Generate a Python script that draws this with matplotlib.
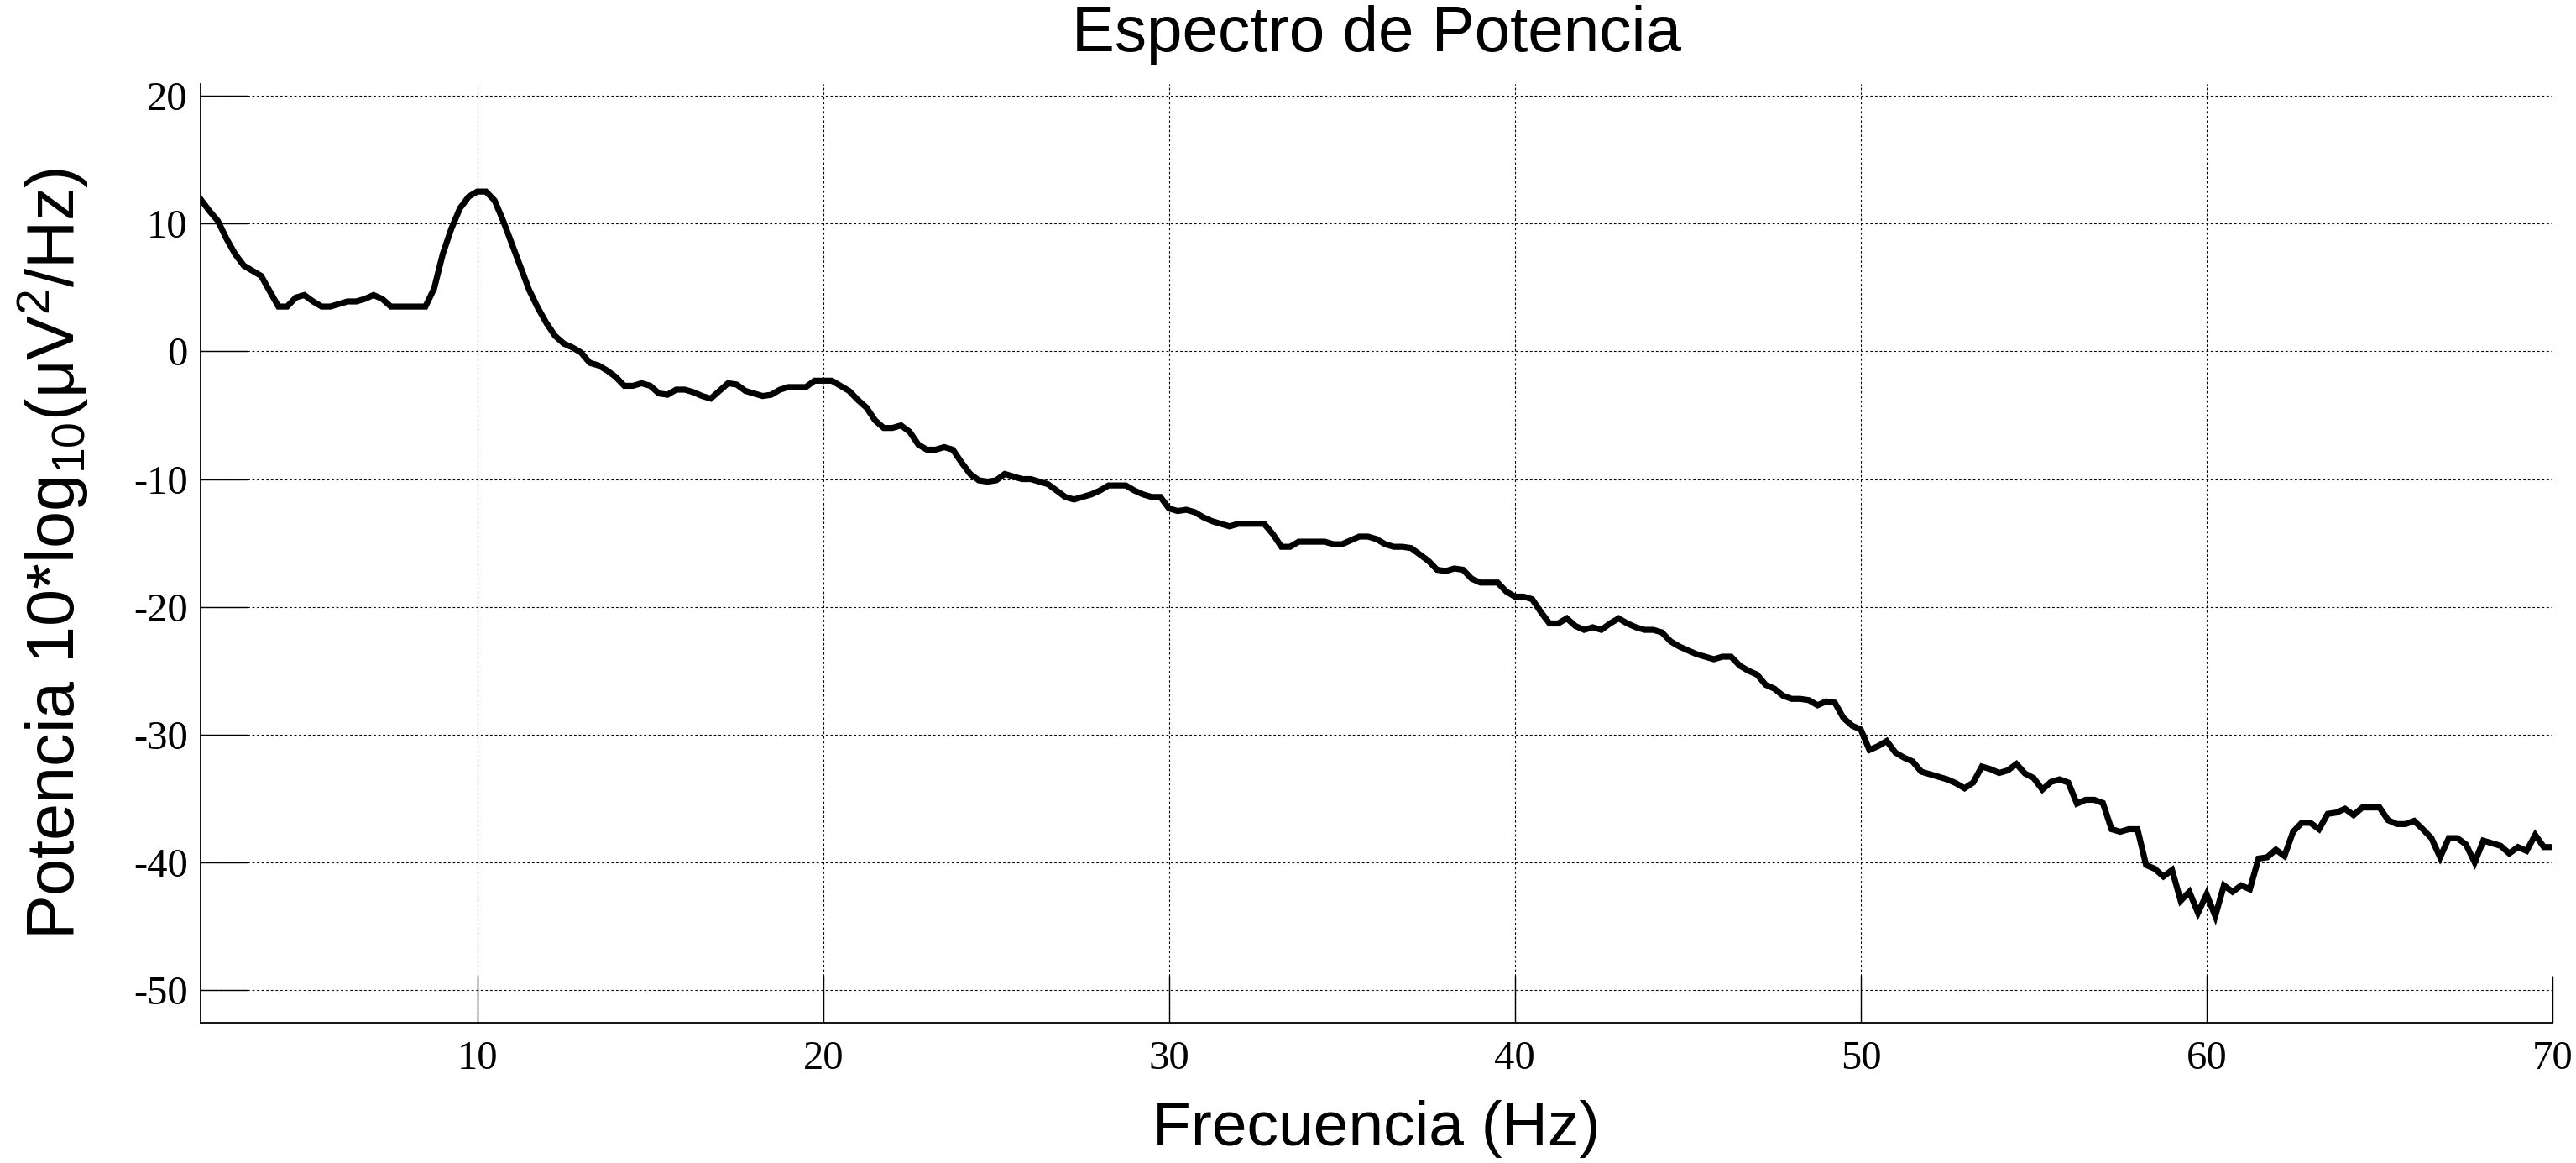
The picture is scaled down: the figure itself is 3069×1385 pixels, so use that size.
import numpy as np
import matplotlib
matplotlib.use("Agg")
import matplotlib.pyplot as plt

# ---- data ----
freq_step = 0.25
power_02_13 = [11.9, 11.0, 10.2, 8.8, 7.6, 6.7, 6.3, 5.9, 4.7, 3.5, 3.5, 4.2, 4.4, 3.9, 3.5, 3.5,
               3.7, 3.9, 3.9, 4.1, 4.4, 4.1, 3.5, 3.5, 3.5, 3.5, 3.5, 4.9, 7.6, 9.6, 11.2, 12.1,
               12.5, 12.5, 11.8, 10.2, 8.4, 6.6, 4.8, 3.4, 2.2, 1.2, 0.6, 0.3, -0.1, -0.9]
power_13_24 = [-1.1, -1.5, -2.0, -2.7, -2.7, -2.5, -2.7, -3.3, -3.4, -3.0, -3.0, -3.2, -3.5, -3.7,
               -3.1, -2.5, -2.6, -3.1, -3.3, -3.5, -3.4, -3.0, -2.8, -2.8, -2.8, -2.3, -2.3, -2.3,
               -2.7, -3.1, -3.8, -4.4, -5.4, -6.0, -6.0, -5.8, -6.3, -7.3, -7.7, -7.7, -7.5, -7.7,
               -8.7, -9.6, -10.1]
power_24_36 = [-10.2, -10.1, -9.6, -9.8, -10.0, -10.0, -10.2, -10.4, -10.9, -11.4, -11.6, -11.4,
               -11.2, -10.9, -10.5, -10.5, -10.5, -10.9, -11.2, -11.4, -11.4, -12.3, -12.5, -12.4,
               -12.6, -13.0, -13.3, -13.5, -13.7, -13.5, -13.5, -13.5, -13.5, -14.3, -15.3, -15.3,
               -14.9, -14.9, -14.9, -14.9, -15.1, -15.1, -14.8, -14.5, -14.5, -14.7]
power_36_47 = [-15.1, -15.3, -15.3, -15.4, -15.9, -16.4, -17.1, -17.2, -17.0, -17.1, -17.8, -18.1,
               -18.1, -18.1, -18.8, -19.2, -19.2, -19.4, -20.4, -21.3, -21.3, -20.9, -21.5, -21.8,
               -21.6, -21.8, -21.3, -20.9, -21.3, -21.6, -21.8, -21.8, -22.0, -22.7, -23.1, -23.4,
               -23.7, -23.9, -24.1, -23.9, -23.9, -24.6, -25.0, -25.3, -26.1]
power_47_58 = [-26.4, -26.95, -27.2, -27.2, -27.3, -27.7, -27.4, -27.5, -28.7, -29.3, -29.6, -31.2,
               -30.9, -30.5, -31.4, -31.8, -32.1, -32.9, -33.1, -33.3, -33.5, -33.8, -34.2, -33.75,
               -32.5, -32.7, -33.0, -32.8, -32.3, -33.05, -33.4, -34.3, -33.7, -33.5, -33.75, -35.4,
               -35.1, -35.1, -35.35, -37.4, -37.6, -37.4, -37.4, -40.2, -40.5, -41.1]
power_59_70 = [-40.6, -43.0, -42.3, -43.95, -42.5, -44.2, -41.8, -42.3, -41.8, -42.1, -39.7, -39.6,
               -39.0, -39.5, -37.6, -36.9, -36.9, -37.4, -36.2, -36.1, -35.8, -36.3, -35.7, -35.7,
               -35.7, -36.7, -37.0, -37.0, -36.75, -37.4, -38.1, -39.6, -38.1, -38.1, -38.6, -40.0,
               -38.3, -38.5, -38.7, -39.3, -38.8, -39.1, -37.85, -38.8, -38.8]

power = (power_02_13 + power_13_24 + power_24_36 + power_36_47 + power_47_58 + power_59_70)
freq = 2.0 + freq_step * np.arange(len(power))

xticks = [10, 20, 30, 40, 50, 60, 70]
yticks = [-50, -40, -30, -20, -10, 0, 10, 20]

title = "Espectro de Potencia"
xlabel = "Frecuencia (Hz)"
ylabel = "Potencia 10*log$_{10}$(μV$^{2}$/Hz)"

# ---- style ----
plt.rcParams["axes.unicode_minus"] = False
plt.rcParams["mathtext.fontset"] = "custom"
plt.rcParams["mathtext.rm"] = "Liberation Sans"
plt.rcParams["mathtext.it"] = "Liberation Sans:italic"
plt.rcParams["mathtext.default"] = "regular"

W, H = 3069, 1385
fig = plt.figure(figsize=(W / 100, H / 100), dpi=100)
left, right, top, bottom = 239, 3041, 100, 1218
ax = fig.add_axes([left / W, 1 - bottom / H, (right - left) / W, (bottom - top) / H])

ax.plot(freq, power, color="black", lw=5.2, solid_joinstyle="miter")

ax.set_xlim(2, 70)
ax.set_ylim(-52.55, 20.92)
ax.set_xticks(xticks)
ax.set_yticks(yticks)

ax.grid(True, color="black", lw=0.8, linestyle=(0, (2.5, 2.5)))
ax.set_axisbelow(False)

for s in ["top", "right"]:
    ax.spines[s].set_visible(False)
for s in ["left", "bottom"]:
    ax.spines[s].set_linewidth(1.3)

ax.tick_params(axis="both", direction="in", length=40, width=1.0, color="black")
ax.tick_params(axis="x", pad=15)
ax.tick_params(axis="y", pad=11)
for lab in ax.get_xticklabels() + ax.get_yticklabels():
    lab.set_fontfamily("Liberation Serif")
    lab.set_fontsize(35)

ax.set_title(title, fontsize=55, family="Liberation Sans", y=(bottom - 61) / (bottom - top),
             va="baseline", pad=0)
ax.set_xlabel(xlabel, fontsize=54, family="Liberation Sans", va="baseline")
ax.xaxis.set_label_coords(0.5, (bottom - 1364) / (bottom - top))
ax.set_ylabel(ylabel, fontsize=57, family="Liberation Sans", va="baseline")
ax.yaxis.set_label_coords((89 - left) / (right - left), 0.5)

fig.savefig("out.png", dpi=100)
